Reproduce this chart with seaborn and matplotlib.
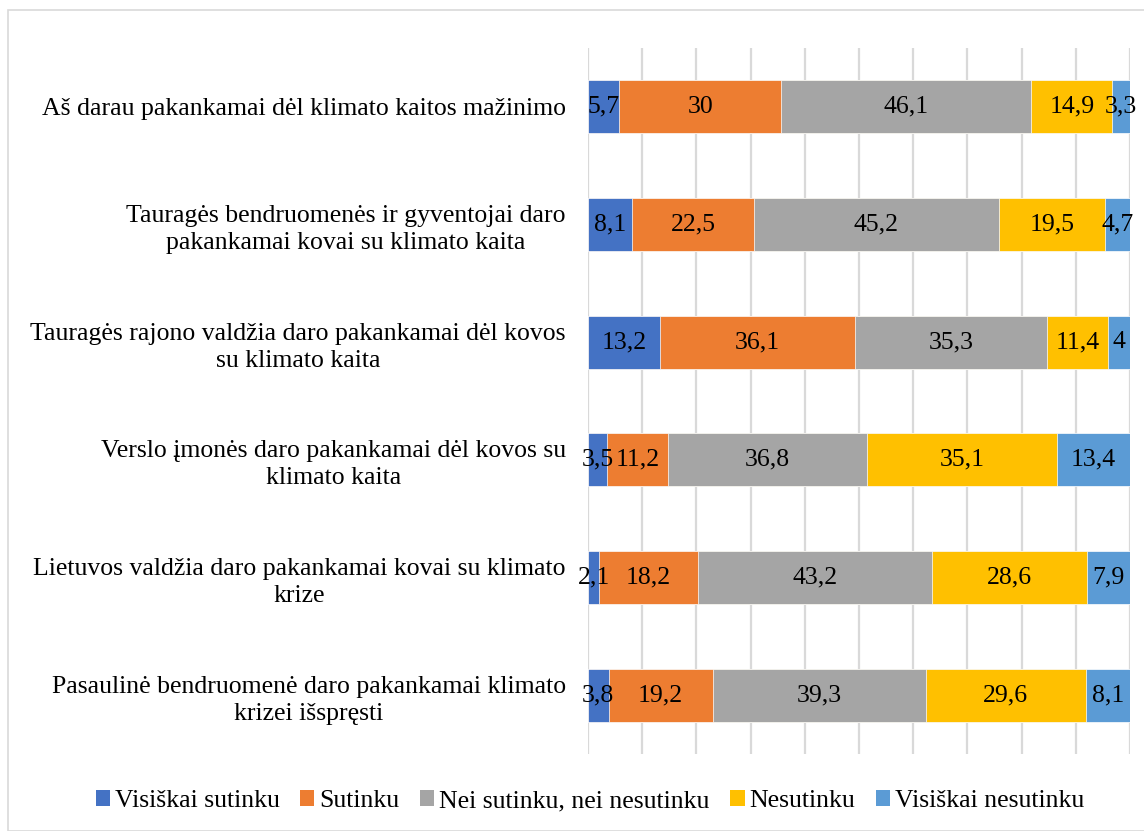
import numpy as np
import pandas as pd
import matplotlib
matplotlib.use("Agg")
import matplotlib.pyplot as plt
from matplotlib.patches import Patch, Rectangle
import seaborn as sns

categories = [
    "Aš darau pakankamai dėl klimato kaitos mažinimo",
    "Tauragės bendruomenės ir gyventojai daro\npakankamai kovai su klimato kaita",
    "Tauragės rajono valdžia daro pakankamai dėl kovos\nsu klimato kaita",
    "Verslo įmonės daro pakankamai dėl kovos su\nklimato kaita",
    "Lietuvos valdžia daro pakankamai kovai su klimato\nkrize",
    "Pasaulinė bendruomenė daro pakankamai klimato\nkrizei išspręsti",
]
series_names = ["Visiškai sutinku", "Sutinku", "Nei sutinku, nei nesutinku",
                "Nesutinku", "Visiškai nesutinku"]
visiskai_sutinku = [5.7, 8.1, 13.2, 3.5, 2.1, 3.8]
sutinku = [30, 22.5, 36.1, 11.2, 18.2, 19.2]
nei = [46.1, 45.2, 35.3, 36.8, 43.2, 39.3]
nesutinku = [14.9, 19.5, 11.4, 35.1, 28.6, 29.6]
visiskai_nesutinku = [3.3, 4.7, 4, 13.4, 7.9, 8.1]
colors = ["#4472C4", "#ED7D31", "#A5A5A5", "#FFC000", "#5B9BD5"]

values = np.array([visiskai_sutinku, sutinku, nei, nesutinku, visiskai_nesutinku])
cum = np.cumsum(values, axis=0)

sns.set_theme(style="white")
plt.rcParams['font.family'] = ['Liberation Serif', 'DejaVu Serif']
plt.rcParams['text.color'] = 'black'
plt.rcParams['ytick.color'] = 'black'

FS = 18.5

fig = plt.figure(figsize=(11.44, 8.31), dpi=100)
ax = fig.add_axes([588/1144, 1-754/831, (1130-588)/1144, (754-48)/831])

# draw cumulative bars from the last to the first so each visible segment is one series
for k in range(len(series_names)-1, -1, -1):
    df = pd.DataFrame({"cat": categories, "val": cum[k]})
    sns.barplot(data=df, x="val", y="cat", orient="h", color=colors[k],
                width=0.45, ax=ax, saturation=1, edgecolor="white", linewidth=0.5,
                zorder=2)

def fmt(v):
    s = f"{v:g}"
    return s.replace(".", ",")

for k in range(len(series_names)):
    for i in range(len(categories)):
        v = values[k, i]
        ax.text(cum[k, i] - v/2, i, fmt(v), ha="center", va="center",
                fontsize=FS, color="black", zorder=5)

ax.set_xlim(0, 100)
ax.set_ylim(5.5, -0.5)
ax.set_xticks(np.arange(0, 101, 10))
ax.set_xticklabels([])
ax.xaxis.grid(True, color="#D9D9D9", linewidth=1.6, zorder=0)
ax.set_axisbelow(True)
ax.set_xlabel("")
ax.set_ylabel("")
for s in ax.spines.values():
    s.set_visible(False)
ax.tick_params(axis="y", length=0, pad=16, labelsize=FS, labelcolor="black")
ax.tick_params(axis="x", length=0)
for lbl in ax.get_yticklabels():
    lbl.set_multialignment("center")
    lbl.set_linespacing(1.3)

handles = [Patch(facecolor=c, edgecolor="none") for c in colors]
fig.legend(handles, series_names, loc="center", bbox_to_anchor=(590/1144, 1-801/831),
           ncol=5, frameon=False, fontsize=FS, handlelength=0.55, handleheight=0.55,
           handletextpad=0.2, columnspacing=0.8, labelcolor="black")

fig.patches.append(Rectangle((8/1144, 0), 1, 1-10/831, transform=fig.transFigure,
                             fill=False, edgecolor="#D9D9D9", linewidth=1.2))

fig.savefig("out.png", dpi=100, facecolor="white")
